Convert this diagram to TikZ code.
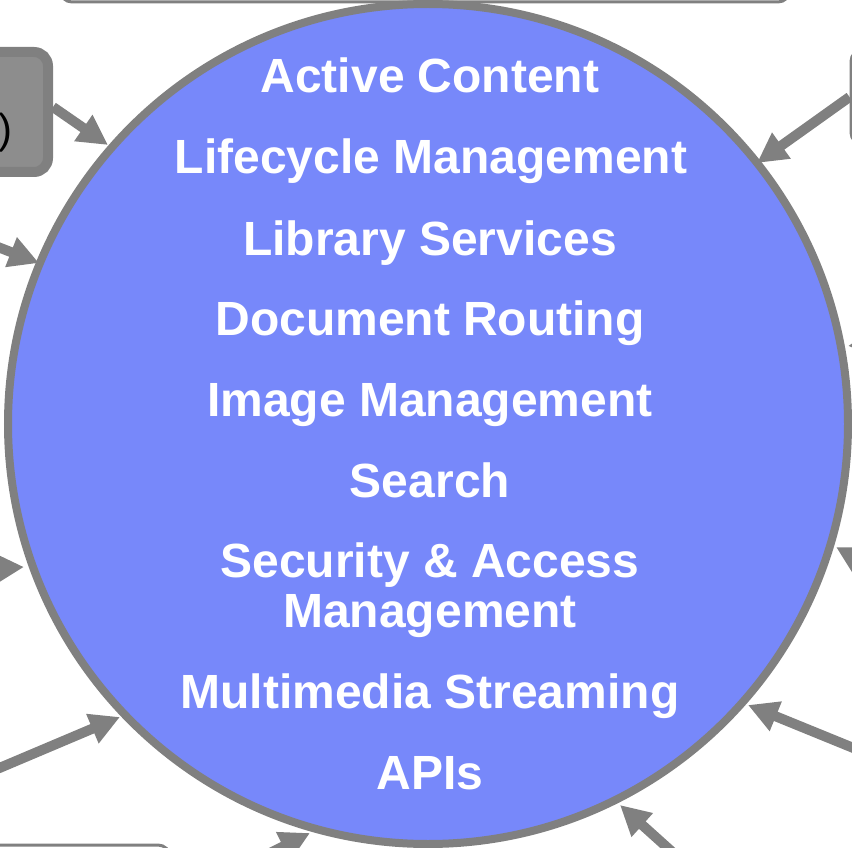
\documentclass[tikz,border=0pt]{standalone}
\usepackage{fontspec}
\setmainfont{Liberation Sans}
\usetikzlibrary{arrows.meta}
\definecolor{hubblue}{RGB}{119,136,250}
\definecolor{agray}{RGB}{128,128,128}
\definecolor{boxgray}{RGB}{141,141,141}
\tikzset{
  lbl/.style={anchor=base, text=white, font=\fontsize{48}{50}\selectfont\bfseries, inner sep=0pt},
  arr/.style={draw=agray, line width=10pt, -{Triangle[length=30pt,width=30pt]}},
  linebox/.style={draw=agray, line width=3pt, fill=white, rounded corners=12pt, inner sep=0pt},
}
\begin{document}
\begin{tikzpicture}[x=1pt,y=-1pt]
\useasboundingbox (0,0) rectangle (852,848);
\clip (0,0) rectangle (852,848);
% surrounding boxes (partly outside the frame)
\node[linebox, minimum width=730pt, minimum height=100pt] (topbox) at (425,-48) {};
\node[linebox, minimum width=200pt, minimum height=95pt] (rbox) at (951,97) {};
\node[linebox, minimum width=200pt, minimum height=120pt] (blbox) at (70,905) {};
\node[draw=agray, fill=boxgray, line width=10pt, rounded corners=14pt, minimum width=98pt, minimum height=120pt, inner sep=0pt] (lbox) at (-1,112) {};
\node[anchor=center, inner sep=0pt, font=\fontsize{42}{44}\selectfont] (lboxtxt) at (5,133) {)};
% hub circle
\node[circle, draw=agray, fill=hubblue, line width=8pt, minimum size=840pt, inner sep=0pt] (hub) at (428,424) {};
% texts
\node[lbl] (t1) at (430,93) {Active Content};
\node[lbl] (t2) at (431,174) {Lifecycle Management};
\node[lbl] (t3) at (430,255) {Library Services};
\node[lbl] (t4) at (430,335) {Document Routing};
\node[lbl] (t5) at (430,416) {Image Management};
\node[lbl] (t6) at (430,497) {Search};
\node[lbl] (t7a) at (430,577) {Security \& Access};
\node[lbl] (t7b) at (430,627) {Management};
\node[lbl] (t8) at (430,708) {Multimedia Streaming};
\node[lbl] (t9) at (430,789) {APIs};
% arrow ends
\coordinate (e1) at (108,145);
\coordinate (e2) at (757,163);
\coordinate (s3) at (-20,240);  \coordinate (e3) at (39,263);
\coordinate (s4) at (-30,570);  \coordinate (e4) at (24,567);
\coordinate (s5) at (-10,772);  \coordinate (e5) at (120,717);
\coordinate (s6) at (250,863);  \coordinate (e6) at (310,833);
\coordinate (s7) at (690,868);  \coordinate (e7) at (620,805);
\coordinate (s8) at (900,767);  \coordinate (e8) at (748,705);
\coordinate (s9) at (900,340);  \coordinate (e9) at (848,346);
\coordinate (s10) at (895,580); \coordinate (e10) at (836,547);
% arrows
\draw[arr] ([yshift=5pt]lbox.east) -- (e1);
\draw[arr] (rbox.west) -- (e2);
\draw[arr] (s3) -- (e3);
\draw[arr] (s4) -- (e4);
\draw[arr] (s5) -- (e5);
\draw[arr] (s6) -- (e6);
\draw[arr] (s7) -- (e7);
\draw[arr] (s8) -- (e8);
\draw[arr] (s9) -- (e9);
\draw[arr] (s10) -- (e10);
\end{tikzpicture}
\end{document}
